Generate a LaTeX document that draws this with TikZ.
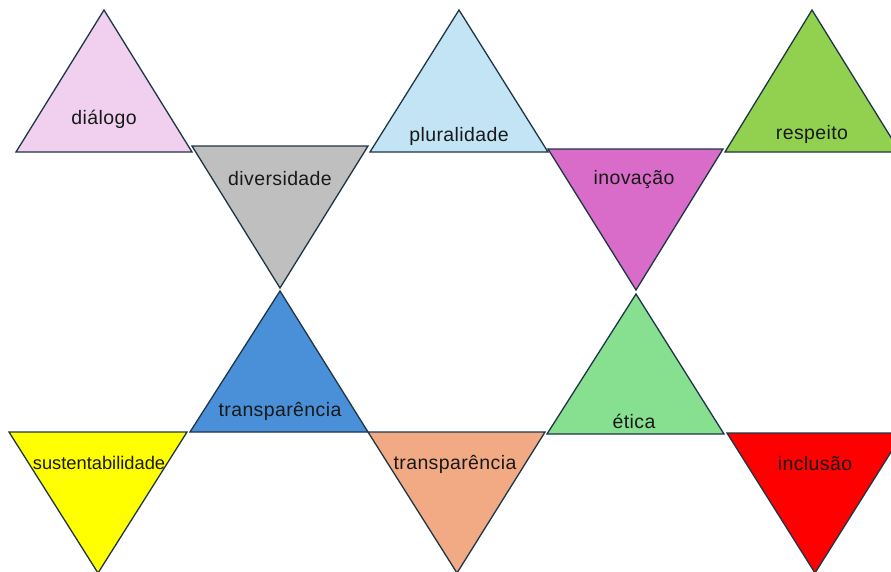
\documentclass[tikz,border=0pt]{standalone}
\usepackage{fontspec}
\setmainfont{Liberation Sans}[LetterSpace=2]
\definecolor{cdialogo}{HTML}{F0D0EE}
\definecolor{cdivers}{HTML}{BFBFBF}
\definecolor{cplural}{HTML}{C2E4F4}
\definecolor{cinov}{HTML}{D86CC8}
\definecolor{cresp}{HTML}{92D050}
\definecolor{ctransp}{HTML}{4A90D8}
\definecolor{cetica}{HTML}{86E090}
\definecolor{csust}{HTML}{FFFF00}
\definecolor{ctransq}{HTML}{F2AA84}
\definecolor{cincl}{HTML}{FF0000}
\definecolor{cedge}{HTML}{1E3546}
\tikzset{
  tri/.style={draw=cedge, line width=1.3pt, line join=miter},
  word/.style={font=\fontsize{19.5}{22}\selectfont, text=black!90, inner sep=0pt}
}
\begin{document}
\begin{tikzpicture}[x=1pt,y=-1pt]
\clip (0,0) rectangle (891,571);
\fill[white] (0,0) rectangle (891,571);

% upper row
\draw[tri, fill=cdialogo] (104,10) -- (192,152) -- (16,152) -- cycle;
\node[word] (dialogo) at (104,119) {diálogo};
\draw[tri, fill=cdivers] (192,146) -- (368,146) -- (280,288) -- cycle;
\node[word] (diversidade) at (280,179) {diversidade};
\draw[tri, fill=cplural] (459,10) -- (548,152) -- (370,152) -- cycle;
\node[word] (pluralidade) at (459,136) {pluralidade};
\draw[tri, fill=cinov] (548,149) -- (723,149) -- (636,290) -- cycle;
\node[word] (inovacao) at (634,179) {inovação};
\draw[tri, fill=cresp] (812,10) -- (900,152) -- (725,152) -- cycle;
\node[word] (respeito) at (812,134) {respeito};

% lower row
\draw[tri, fill=ctransp] (280,291) -- (368,432) -- (190,432) -- cycle;
\node[word] (transpA) at (280,411) {transparência};
\draw[tri, fill=cetica] (636,294) -- (724,434) -- (547,434) -- cycle;
\node[word] (etica) at (634,421) {ética};
\draw[tri, fill=csust] (9,432) -- (187,432) -- (98,573) -- cycle;
\node[word, font=\fontsize{18.3}{22}\selectfont] (sustent) at (99,463) {\addfontfeature{LetterSpace=0}sustentabilidade};
\draw[tri, fill=ctransq] (368,432) -- (545,432) -- (457,573) -- cycle;
\node[word] (transpB) at (455,464) {transparência};
\draw[tri, fill=cincl] (727,433) -- (903,433) -- (815,573) -- cycle;
\node[word] (inclusao) at (815,464) {inclusão};
\end{tikzpicture}
\end{document}
